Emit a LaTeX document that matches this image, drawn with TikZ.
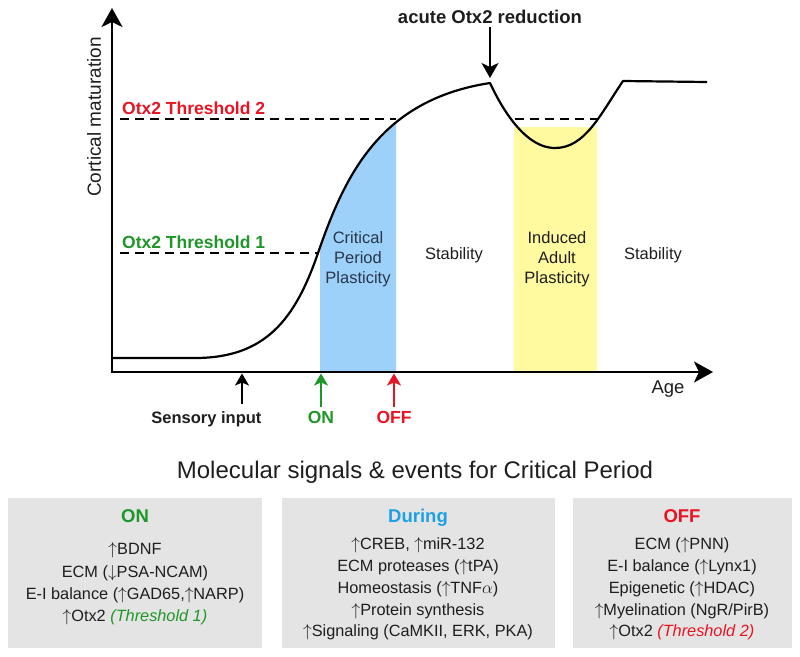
\documentclass[tikz,border=0pt]{standalone}
\usepackage{fontspec}
\setmainfont{Liberation Sans}
\usetikzlibrary{arrows.meta,positioning}

\definecolor{cpblue}{RGB}{157,209,249}
\definecolor{cpyellow}{RGB}{255,250,160}
\definecolor{ongreen}{RGB}{30,150,40}
\definecolor{offred}{RGB}{232,20,35}
\definecolor{durblue}{RGB}{30,160,230}
\definecolor{slate}{RGB}{40,55,75}
\definecolor{boxgray}{RGB}{228,228,228}
\definecolor{ink}{RGB}{30,30,30}
\newcommand\fsz[2]{\fontsize{#1}{#2}\selectfont}

\begin{document}
\begin{tikzpicture}[x=1pt, y=-1pt,
	axis/.style={line width=2.4pt, {Stealth[length=19pt,width=21pt,inset=5pt]}-{Stealth[length=19pt,width=21pt,inset=5pt]}},
	matcurve/.style={line width=2.2pt, line join=round},
	thresh/.style={line width=2pt, dash pattern=on 9pt off 6pt},
	pkarrow/.style={line width=2pt, -{Stealth[length=15pt,width=17pt,inset=4pt]}},
	tickarrow/.style={line width=2pt, -{Stealth[length=12pt,width=14pt,inset=3pt]}, shorten >=1.5pt},
	thrlbl/.style={font=\bfseries\fsz{17.5}{20}, inner sep=0pt},
	region/.style={font=\fsz{16.5}{20}, align=center, text=ink},
	evlbl/.style={font=\bfseries\fsz{17.5}{20}},
	sigbox/.style={fill=boxgray, minimum height=150pt, inner sep=0pt, anchor=north west},
	boxhead/.style={font=\bfseries\fsz{18.5}{22}, anchor=base},
	boxlist/.style={align=center, text=ink}]
	\useasboundingbox (0,0) rectangle (800,656);

	% shaded periods
	\fill[cpyellow] (514,127) rectangle (597,372);
	\begin{scope}
		\clip (320,0) rectangle (396,372);
		\fill[cpblue] (195,358) .. controls (265,358) and (295,320) .. (318,253)
			.. controls (345,175) and (380,100) .. (490,83) |- (195,372) -- cycle;
	\end{scope}

	% Otx2 thresholds
	\coordinate (thrA) at (120,253);
	\coordinate (thrAend) at (318,253);
	\coordinate (thrB) at (120,119);
	\coordinate (thrBend) at (396,119);
	\coordinate (dipL) at (515,119);
	\coordinate (dipR) at (597,119);
	\draw[thresh] (thrA) -- (thrAend);
	\draw[thresh] (thrB) -- (thrBend);
	\draw[thresh] (dipL) -- (dipR);
	\node[thrlbl, text=offred, anchor=base west] (thrBlbl) at (122,114) {Otx2 Threshold 2};
	\node[thrlbl, text=ongreen, anchor=base west] (thrAlbl) at (122,248) {Otx2 Threshold 1};

	% axes and curve
	\coordinate (ytip) at (112,8);
	\coordinate (origin) at (112,372);
	\coordinate (xtip) at (713,372);
	\draw[matcurve] (112,358) -- (195,358) .. controls (265,358) and (295,320) .. (318,253)
		.. controls (345,175) and (380,100) .. (490,83) coordinate (peak)
		.. controls (498,100) and (522,148) .. (555,148)
		.. controls (585,148) and (600,115) .. (623,81) -- (707,82);
	\draw[axis] (ytip) -- (origin) -- (xtip);
	\node[rotate=90, font=\fsz{19}{22}, text=ink] (ylbl) at (94,117) {Cortical maturation};
	\node[font=\fsz{18.5}{22}, text=ink] (agelbl) at (668,389) {Age};

	\node[font=\bfseries\fsz{18.5}{22}, anchor=base, text=ink] (acute) at (490,23) {acute Otx2 reduction};
	\draw[pkarrow, shorten >=5pt] (acute.south) -- (peak);

	\node[region, text=slate] (cpp) at (358,259) {Critical\\Period\\Plasticity};
	\node[region] (stab1) at (454,255) {Stability};
	\node[region] (iap) at (557,259) {Induced\\Adult\\Plasticity};
	\node[region] (stab2) at (653,255) {Stability};

	% events on the age axis
	\node[evlbl, font=\bfseries\fsz{16.5}{20}, anchor=base east, text=ink] (sens) at (265,423) {Sensory input};
	\node[evlbl, anchor=base, text=ongreen] (on) at (321,423) {ON};
	\node[evlbl, anchor=base, text=offred] (off) at (394,423) {OFF};
	\coordinate (sensup) at (242,404);
	\draw[tickarrow] (sensup) -- (sensup |- origin);
	\draw[tickarrow, ongreen] (on.north) -- (on.north |- origin);
	\draw[tickarrow, offred] (off.north) -- (off.north |- origin);

	% molecular signals
	\node[font=\fsz{24}{28}, anchor=base, text=ink] (title) at (415,478) {Molecular signals \& events for Critical Period};
	\node[sigbox, minimum width=254pt] (onbox) at (8,498) {};
	\node[sigbox, minimum width=273pt] (durbox) at (282,498) {};
	\node[sigbox, minimum width=219pt] (offbox) at (573,498) {};
	\node[boxhead, text=ongreen] (onhead) at (135,522) {ON};
	\node[boxhead, text=durblue] (durhead) at (418,522) {During};
	\node[boxhead, text=offred] (offhead) at (682,522) {OFF};
	\node[boxlist, font=\fsz{16.3}{22.3}] (onlist) at (135,584) {$\uparrow$BDNF\\ECM ($\downarrow$PSA-NCAM)\\E-I balance ($\uparrow$GAD65,$\uparrow$NARP)\\$\uparrow$Otx2 \textcolor{ongreen}{\itshape(Threshold 1)}};
	\node[boxlist, font=\fsz{16.3}{21.75}] (durlist) at (418,589) {$\uparrow$CREB, $\uparrow$miR-132\\ECM proteases ($\uparrow$tPA)\\Homeostasis ($\uparrow$TNF$\alpha$)\\$\uparrow$Protein synthesis\\$\uparrow$Signaling (CaMKII, ERK, PKA)};
	\node[boxlist, font=\fsz{16.3}{21.75}] (offlist) at (682,589) {ECM ($\uparrow$PNN)\\E-I balance ($\uparrow$Lynx1)\\Epigenetic ($\uparrow$HDAC)\\$\uparrow$Myelination (NgR/PirB)\\$\uparrow$Otx2 \textcolor{offred}{\itshape(Threshold 2)}};
\end{tikzpicture}
\end{document}
